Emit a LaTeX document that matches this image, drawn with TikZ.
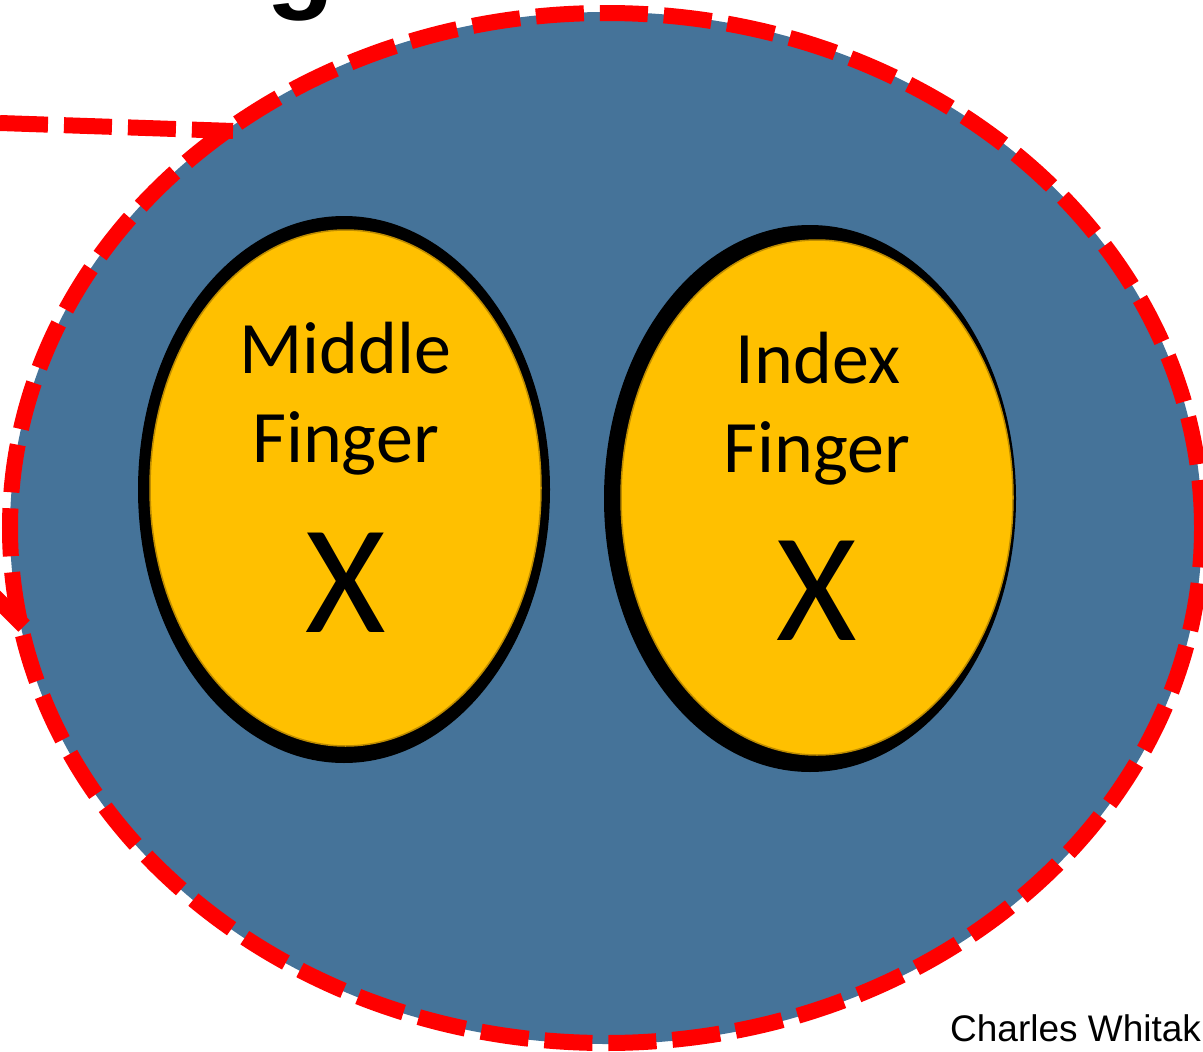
\documentclass[tikz,border=0pt]{standalone}
\usepackage{fontspec}
\setmainfont{Carlito}
\newfontfamily\arialf{Liberation Sans}
\definecolor{palmblue}{RGB}{69,115,153}
\definecolor{fingeryellow}{RGB}{255,192,0}
\definecolor{fingeredge}{RGB}{190,140,0}
\definecolor{dashred}{RGB}{255,0,0}
\tikzset{
  reddash/.style={draw=dashred, line width=16pt, dash pattern=on 48pt off 16pt},
  shadowell/.style={fill=black},
  fingerell/.style={fill=fingeryellow, draw=fingeredge, line width=1.5pt},
  lbl/.style={anchor=base, inner sep=0pt, font=\fontsize{74}{89}\selectfont},
  bigx/.style={anchor=base, inner sep=0pt, font=\fontsize{155}{160}\selectfont},
}
\begin{document}
\begin{tikzpicture}[x=1pt,y=-1pt]
\useasboundingbox (0,0) rectangle (1203,1052);
\clip (0,0) rectangle (1203,1052);
% partial title letter at top
\node[anchor=base, inner sep=0pt, font=\arialf\bfseries\fontsize{112}{120}\selectfont] (title) at (301,-2) {g};
% palm
\fill[palmblue] (606,528) ellipse [x radius=596pt, y radius=516pt];
\draw[reddash] (606,528) ellipse [x radius=596pt, y radius=515pt];
% dashed pointer lines
\coordinate (l1a) at (0,123);
\coordinate (l1b) at (233,131);
\draw[reddash] (l1a) -- (l1b);
\coordinate (l2a) at (-12,590);
\coordinate (l2b) at (24,626);
\draw[draw=dashred, line width=16pt] (l2a) -- (l2b);
% middle finger
\fill[shadowell] (344,489.5) ellipse [x radius=206pt, y radius=273.5pt];
\filldraw[fingerell] (345.5,488) ellipse [x radius=195.5pt, y radius=258pt];
\node[lbl] (m1) at (345.5,373) {Middle};
\node[lbl] (m2) at (345.5,462) {Finger};
\node[bigx] (mx) at (345.5,632) {X};
% index finger
\fill[shadowell] (810,498.5) ellipse [x radius=206pt, y radius=273.5pt];
\filldraw[fingerell] (817,497.5) ellipse [x radius=196pt, y radius=257.5pt];
\node[lbl] (i1) at (818,383) {Index};
\node[lbl] (i2) at (817,472) {Finger};
\node[bigx] (ix) at (817,640) {X};
% credit
\node[anchor=base west, inner sep=0pt, font=\arialf\fontsize{37}{40}\selectfont] (credit) at (950,1041) {Charles Whitak};
\end{tikzpicture}
\end{document}
